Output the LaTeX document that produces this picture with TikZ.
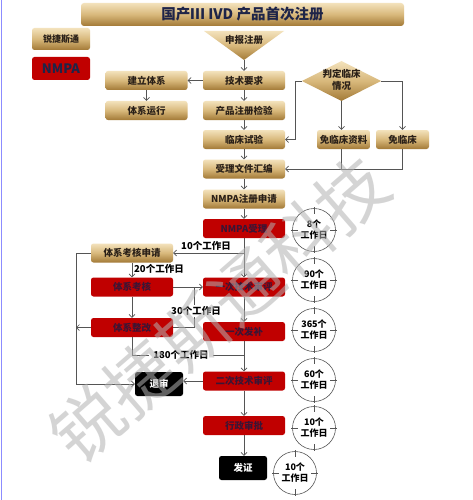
\documentclass[tikz,border=0pt]{standalone}
\usepackage{fontspec}
\newfontfamily\cjk{Noto Sans CJK SC}
\usetikzlibrary{arrows.meta}
\definecolor{goldtop}{HTML}{F3E2BC}
\definecolor{goldmid}{HTML}{D8B87B}
\definecolor{goldbot}{HTML}{A27936}
\definecolor{nred}{HTML}{C00000}
\definecolor{redtext}{HTML}{3A1535}
\definecolor{goldtext}{HTML}{2A2018}
\definecolor{lgray}{HTML}{555555}
\definecolor{navy}{HTML}{1E2448}
\begin{document}
\begin{tikzpicture}[x=1pt,y=-1pt,
  base/.style={rounded corners=2.5pt, inner sep=0pt, font=\cjk\bfseries\fontsize{9.5}{11}\selectfont},
  gold/.style={base, top color=goldtop, bottom color=goldbot, middle color=goldmid, text=goldtext, minimum width=82pt, minimum height=19pt},
  redbox/.style={base, fill=nred, text=redtext, minimum width=82pt, minimum height=19pt},
  blackbox/.style={base, fill=black, text=white, minimum width=48pt, minimum height=24pt},
  line/.style={draw=lgray, line width=0.7pt},
  arr/.style={line, -{Straight Barb[length=3pt,width=6pt]}},
  lab/.style={inner sep=1pt, font=\cjk\bfseries\fontsize{9.5}{11}\selectfont, text=black},
  clock/.style={circle, draw=lgray, line width=0.6pt, minimum size=43pt, inner sep=0pt, align=center, font=\cjk\bfseries\fontsize{9}{11}\selectfont},
  tick/.style={draw=lgray, line width=0.6pt}]
\useasboundingbox (0,0) rectangle (472,500);
\fill[white] (0,0) rectangle (472,500);
\draw[draw=blue!45, line width=0.8pt] (1.5,0) -- (1.5,500);
% title
\node[base, top color=goldtop, bottom color=goldbot, middle color=goldmid, minimum width=323pt, minimum height=23pt, rounded corners=3pt, text=navy, font=\cjk\bfseries\fontsize{14.5}{16}\selectfont] (title) at (242.5,14.5) {国产Ⅲ IVD 产品首次注册};
% legend
\node[gold, minimum width=58pt, minimum height=22pt, font=\cjk\bfseries\fontsize{9}{11}\selectfont] (lg1) at (61,39) {锐捷斯通};
\node[redbox, minimum width=58pt, minimum height=23pt, text=navy, font=\cjk\bfseries\fontsize{13}{15}\selectfont] (lg2) at (61,68.5) {NMPA};
% triangle
\shade[top color=goldtop, bottom color=goldbot, middle color=goldmid] (204,31) -- (284,31) -- (244,60) -- cycle;
\coordinate (apex) at (244,60);
\node[lab, text=goldtext] (sb) at (244,40) {申报注册};
% main column
\node[gold] (req) at (244,80.5) {技术要求};
\node[gold] (jy) at (244,110.5) {产品注册检验};
\node[gold] (lc) at (244,139.5) {临床试验};
\node[gold] (hb) at (244,169) {受理文件汇编};
\node[gold] (sq) at (244,199) {NMPA注册申请};
\node[redbox] (sl) at (244,228.5) {NMPA受理};
\node[redbox] (ys) at (244,287) {一次技术审评};
\node[redbox] (fb) at (244,331.5) {一次发补};
\node[redbox] (es) at (244,381) {二次技术审评};
\node[redbox] (xz) at (244,425.5) {行政审批};
\node[blackbox] (fz) at (243,468) {发证};
% left column
\node[gold] (jl) at (146.5,80.5) {建立体系};
\node[gold] (yx) at (146.5,110.5) {体系运行};
\node[gold] (kh) at (132,253) {体系考核申请};
\node[redbox] (khr) at (132,287) {体系考核};
\node[redbox] (zg) at (132,327.5) {体系整改};
\node[blackbox] (ts) at (159,384) {退审};
% diamond
\shade[top color=goldtop, bottom color=goldbot, middle color=goldmid] (302,81) -- (341.5,61) -- (381,81) -- (341.5,101) -- cycle;
\coordinate (dL) at (302,81);
\coordinate (dR) at (381,81);
\coordinate (dB) at (341.5,101);
\node[lab, text=goldtext, align=center, font=\cjk\bfseries\fontsize{9.5}{12}\selectfont] (dt) at (341.5,80) {判定临床\\情况};
\node[gold, minimum width=53pt] (mzl) at (343.5,139.5) {免临床资料};
\node[gold, minimum width=53pt] (mzc) at (402.5,139.5) {免临床};
% clocks
\foreach \n/\x/\y/\t in {c1/314/230/8个, c2/314/280/90个, c3/314/330/365个, c4/314/380/60个, c5/314/428/10个, c6/295/473/10个}{
  \node[clock] (\n) at (\x,\y) {\t\\工作日};
  \draw[tick] (\n.north) ++(0,-1) -- ++(0,7);
  \draw[tick] (\n.south) ++(0,1) -- ++(0,-7);
  \draw[tick] (\n.west) ++(-1,0) -- ++(7,0);
  \draw[tick] (\n.east) ++(1,0) -- ++(-7,0);
}
% connectors
\draw[arr] (apex) -- (apex |- req.north);
\draw[arr] (req) -- (jl);
\draw[arr] (jl) -- (yx);
\draw[arr] (req) -- (jy);
\draw[arr] (jy) -- (lc);
\draw[arr] (lc) -- (hb);
\draw[arr] (hb) -- (sq);
\draw[arr] (sq) -- (sl);
\draw[arr] (dL) -- ++(-7,0) |- (lc.east);
\draw[arr] (dB) -- (dB |- mzl.north);
\draw[arr] (dR) -| (mzc.north);
\draw[line] (mzl.south -| dB) -- (dB |- hb.east);
\draw[arr] (mzc.south) |- (hb.east);
\draw[arr] (sl) -- (ys);
\coordinate (b10) at (sl.south |- kh.east);
\draw[arr] (b10) -- (kh.east);
\node[lab] (l10) at (206,245.5) {10个工作日};
\coordinate (L) at (76,0);
\draw[arr] (kh.west) -- (kh.west -| L) |- (ts.west);
\draw[arr] (kh) -- (khr);
\node[lab, anchor=west] (l20) at (133,268.5) {20个工作日};
\draw[arr] (khr) -- (ys);
\draw[arr] (khr) -- (zg);
\coordinate (j30) at (194,287);
\draw[line] (zg.east) -| (j30);
\node[lab, fill=white] (l30) at (196,311) {30个工作日};
\draw[arr] (zg.west) -- (zg.west -| L);
\coordinate (j180) at (244,355.5);
\draw[line] (zg.south) |- (j180);
\node[lab, fill=white, inner xsep=4pt] (l180) at (181,355) {180个工作日};
\draw[arr] (ys) -- (fb);
\draw[arr] (fb) -- (es);
\draw[arr] (es.west) -- (es.west -| ts.east);
\draw[arr] (es) -- (xz);
\draw[arr] (xz) -- (fz.north -| xz.south);
% watermark
\node[rotate=41, text=gray!60, opacity=0.55, font=\cjk\fontsize{70}{70}\selectfont, inner sep=0pt] (wm) at (220,310) {锐捷斯通科技};
\end{tikzpicture}
\end{document}
